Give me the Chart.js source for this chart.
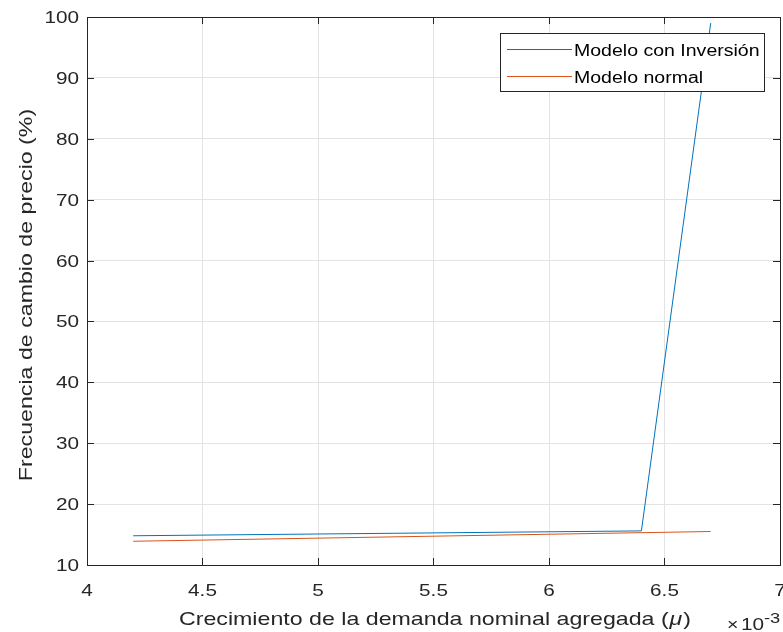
<!DOCTYPE html>
<html>
<head>
<meta charset="utf-8">
<script src="https://cdn.jsdelivr.net/npm/chart.js@4"></script>
<style>
  html, body { margin: 0; padding: 0; background: #fff; }
  #wrap { width: 783px; height: 632px; }
</style>
</head>
<body>
<div id="wrap"><canvas id="chart" width="783" height="632"></canvas></div>
<script>
// data
const muInversion = [0.0042, 0.0064, 0.0067];
const freqInversion = [14.8, 15.6, 99];
const muNormal = [0.0042, 0.0067];
const freqNormal = [13.9, 15.5];
const seriesNames = ['Modelo con Inversión', 'Modelo normal'];
const xTickValues = [4, 4.5, 5, 5.5, 6, 6.5, 7];   // x 10^-3
const yTickValues = [10, 20, 30, 40, 50, 60, 70, 80, 90, 100];
const xTitle = 'Crecimiento de la demanda nominal agregada (';
const yTitle = 'Frecuencia de cambio de precio (%)';

const FONT = '"Liberation Sans", Arial, Helvetica, sans-serif';
const AXIS = '#262626';
const BLUE = '#0072BD';
const ORANGE = '#D95319';
const STRETCH = 1.22;   // the original font runs wider than Liberation

const toPoints = (xs, ys) => xs.map((x, i) => ({ x: x, y: ys[i] }));

// text drawn a bit wider along its own direction
function wideText(ctx, txt, x, y, font, align, rot) {
    ctx.save();
    ctx.translate(x, y);
    if (rot) ctx.rotate(rot);
    ctx.scale(STRETCH, 1);
    ctx.font = font;
    ctx.textAlign = align || 'left';
    ctx.textBaseline = 'alphabetic';
    ctx.fillText(txt, 0, 0);
    ctx.restore();
}
function wideWidth(ctx, txt, font) {
    ctx.save();
    ctx.font = font;
    const w = ctx.measureText(txt).width * STRETCH;
    ctx.restore();
    return w;
}

// box, inward ticks, labels, legend and exponent (matlab look)
const matlabAxes = {
    id: 'matlabAxes',
    afterDraw(chart) {
        const ctx = chart.ctx;
        const a = chart.chartArea;
        const xs = chart.scales.x, ys = chart.scales.y;
        const tl = 7;
        ctx.save();
        ctx.strokeStyle = AXIS;
        ctx.lineWidth = 1;
        ctx.beginPath();
        xTickValues.forEach(v => {
            const px = Math.round(xs.getPixelForValue(v / 1000)) + 0.5;
            ctx.moveTo(px, a.bottom); ctx.lineTo(px, a.bottom - tl);
            ctx.moveTo(px, a.top); ctx.lineTo(px, a.top + tl);
        });
        yTickValues.forEach(v => {
            const py = Math.round(ys.getPixelForValue(v)) + 0.5;
            ctx.moveTo(a.left, py); ctx.lineTo(a.left + tl, py);
            ctx.moveTo(a.right, py); ctx.lineTo(a.right - tl, py);
        });
        ctx.stroke();
        ctx.strokeRect(Math.round(a.left) + 0.5, Math.round(a.top) + 0.5,
            Math.round(a.right - a.left), Math.round(a.bottom - a.top));

        // tick labels
        ctx.fillStyle = AXIS;
        const tickFont = '17px ' + FONT;
        xTickValues.forEach(v => {
            wideText(ctx, String(v), xs.getPixelForValue(v / 1000), a.bottom + 31, tickFont, 'center');
        });
        yTickValues.forEach(v => {
            wideText(ctx, String(v), a.left - 8, ys.getPixelForValue(v) + 6, tickFont, 'right');
        });

        // axis titles
        const tf = '19px ' + FONT, tfi = 'italic 19px ' + FONT;
        const w1 = wideWidth(ctx, xTitle, tf), w2 = wideWidth(ctx, '\u03bc', tfi), w3 = wideWidth(ctx, ')', tf);
        let sx = 435 - (w1 + w2 + w3 + 2) / 2;
        wideText(ctx, xTitle, sx, 625, tf);
        wideText(ctx, '\u03bc', sx + w1 + 1, 625, tfi);
        wideText(ctx, ')', sx + w1 + w2 + 2, 625, tf);
        wideText(ctx, yTitle, 31.5, 295, tf, 'center', -Math.PI / 2);

        // x10^-3
        wideText(ctx, '\u00d7', 727, 630, '16px ' + FONT);
        wideText(ctx, '10', 741, 630, '17px ' + FONT);
        wideText(ctx, '-3', 764, 623, '15px ' + FONT);

        // legend
        const lx = 500.5, ly = 33.5, lw = 264, lh = 58;
        ctx.fillStyle = '#fff';
        ctx.fillRect(lx, ly, lw, lh);
        ctx.strokeStyle = AXIS;
        ctx.strokeRect(lx, ly, lw, lh);
        chart.data.datasets.forEach((ds, i) => {
            const yy = 49 + i * 27;
            ctx.strokeStyle = ds.borderColor;
            ctx.beginPath();
            ctx.moveTo(507, yy + 0.5); ctx.lineTo(572, yy + 0.5);
            ctx.stroke();
            ctx.fillStyle = '#000';
            wideText(ctx, ds.label, 574, yy + 7, '16px ' + FONT);
        });
        ctx.restore();
    }
};

new Chart(document.getElementById('chart').getContext('2d'), {
    type: 'scatter',
    data: {
        datasets: [
            {
                label: seriesNames[0],
                data: toPoints(muInversion, freqInversion),
                showLine: true,
                borderColor: BLUE,
                backgroundColor: BLUE,
                borderWidth: 1,
                pointRadius: 0,
                tension: 0
            },
            {
                label: seriesNames[1],
                data: toPoints(muNormal, freqNormal),
                showLine: true,
                borderColor: ORANGE,
                backgroundColor: ORANGE,
                borderWidth: 1,
                pointRadius: 0,
                tension: 0
            }
        ]
    },
    options: {
        responsive: false,
        animation: false,
        layout: { padding: { top: 17, right: 3, left: 0, bottom: 0 } },
        plugins: {
            legend: { display: false },
            tooltip: { enabled: false }
        },
        scales: {
            x: {
                type: 'linear',
                min: 0.004,
                max: 0.007,
                afterBuildTicks: s => { s.ticks = xTickValues.map(v => ({ value: v / 1000 })); },
                afterFit: s => { s.height = 67; },
                ticks: { display: false },
                grid: { color: '#e3e3e3', drawTicks: false },
                border: { display: false },
                title: { display: false }
            },
            y: {
                type: 'linear',
                min: 10,
                max: 100,
                afterBuildTicks: s => { s.ticks = yTickValues.map(v => ({ value: v })); },
                afterFit: s => { s.width = 87; },
                ticks: { display: false },
                grid: { color: '#e3e3e3', drawTicks: false },
                border: { display: false },
                title: { display: false }
            }
        }
    },
    plugins: [matlabAxes]
});
</script>
</body>
</html>
